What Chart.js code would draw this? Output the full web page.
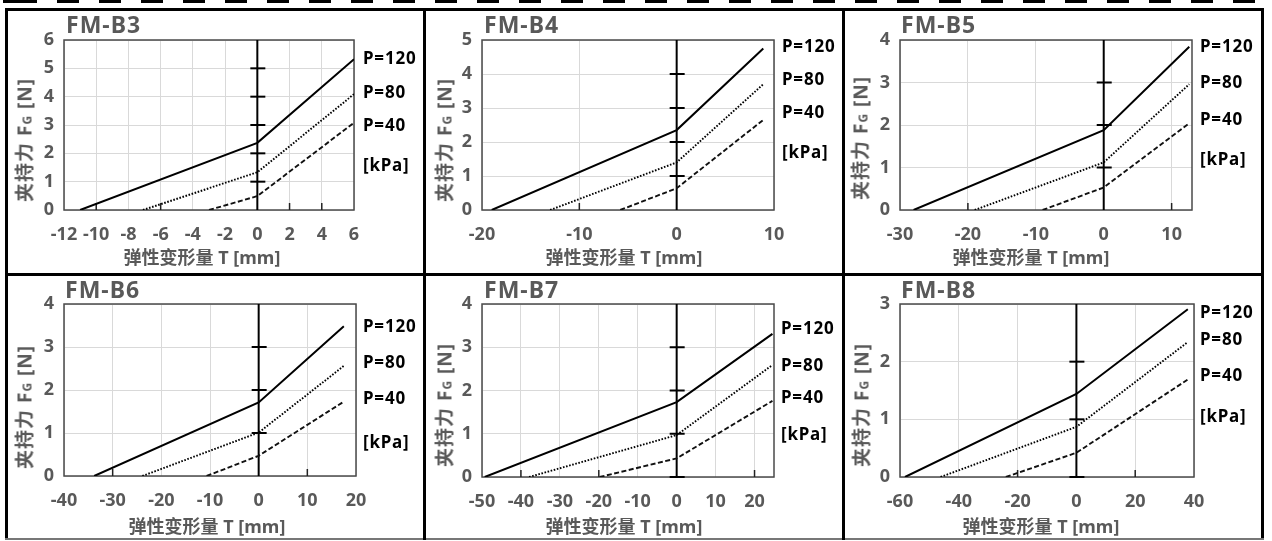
<!DOCTYPE html>
<html><head><meta charset="utf-8">
<script src="https://cdn.jsdelivr.net/npm/chart.js@4/dist/chart.umd.min.js"></script>
<style>
html,body{margin:0;padding:0;background:#fff;}
#stage{position:relative;width:1272px;height:541px;overflow:hidden;background:#fff;
 font-family:"Noto Sans","Noto Sans CJK SC",sans-serif;}
.blk{position:absolute;background:#000;}
.t{position:absolute;white-space:nowrap;font-weight:700;line-height:1;}
canvas{position:absolute;}
</style></head>
<body><div id="stage"></div>
<script>
// ---------------- data ----------------
const panelNames = ["FM-B3","FM-B4","FM-B5","FM-B6","FM-B7","FM-B8"];
const seriesLabels = ["P=120","P=80","P=40"];
const unitLabel = "[kPa]";
const xTitle = "弹性变形量 T [mm]";

const B3_xTicks = [-12,-10,-8,-6,-4,-2,0,2,4,6];
const B3_yTicks = [0,1,2,3,4,5,6];
const B3_T120 = [-11.0, 0, 6];   const B3_F120 = [0, 2.37, 5.32];
const B3_T80  = [-7.1, 0, 6];    const B3_F80  = [0, 1.33, 4.09];
const B3_T40  = [-3.0, 0, 6];    const B3_F40  = [0, 0.49, 3.08];

const B4_xTicks = [-20,-10,0,10];
const B4_yTicks = [0,1,2,3,4,5];
const B4_T120 = [-19.0, 0, 8.9]; const B4_F120 = [0, 2.35, 4.75];
const B4_T80  = [-13.0, 0, 8.9]; const B4_F80  = [0, 1.40, 3.70];
const B4_T40  = [-5.8, 0, 8.9];  const B4_F40  = [0, 0.64, 2.65];

const B5_xTicks = [-30,-20,-10,0,10];
const B5_yTicks = [0,1,2,3,4];
const B5_T120 = [-28.0, 0, 12.6]; const B5_F120 = [0, 1.88, 3.84];
const B5_T80  = [-19.0, 0, 12.6]; const B5_F80  = [0, 1.12, 2.96];
const B5_T40  = [-9.0, 0, 12.6];  const B5_F40  = [0, 0.53, 2.04];

const B6_xTicks = [-40,-30,-20,-10,0,10,20];
const B6_yTicks = [0,1,2,3,4];
const B6_T120 = [-33.8, 0, 17.5]; const B6_F120 = [0, 1.71, 3.48];
const B6_T80  = [-23.9, 0, 17.5]; const B6_F80  = [0, 1.01, 2.56];
const B6_T40  = [-10.7, 0, 17.5]; const B6_F40  = [0, 0.47, 1.73];

const B7_xTicks = [-50,-40,-30,-20,-10,0,10,20];
const B7_yTicks = [0,1,2,3,4];
const B7_T120 = [-49.3, 0, 24.6]; const B7_F120 = [0, 1.73, 3.31];
const B7_T80  = [-37.9, 0, 24.6]; const B7_F80  = [0, 0.97, 2.59];
const B7_T40  = [-19.8, 0, 24.6]; const B7_F40  = [0, 0.43, 1.76];

const B8_xTicks = [-60,-40,-20,0,20,40];
const B8_yTicks = [0,1,2,3];
const B8_T120 = [-58.3, 0, 37.9]; const B8_F120 = [0, 1.44, 2.91];
const B8_T80  = [-46.2, 0, 37.9]; const B8_F80  = [0, 0.87, 2.34];
const B8_T40  = [-24.0, 0, 37.9]; const B8_F40  = [0, 0.42, 1.69];

// axis marks seen on the zero line / bottom axis
const B3_cross=[1,2,3,4,5], B3_bottom=[-10,-6,2,4];
const B4_cross=[1,2,3,4],   B4_bottom=[-10];
const B5_cross=[1,2,3],     B5_bottom=[-20,10];
const B6_cross=[1,2,3],     B6_bottom=[-30,10];
const B7_cross=[0,1,2,3],   B7_bottom=[-40,-20,20];
const B8_cross=[0,1,2],     B8_bottom=[-20,20];

// ---------------- layout ----------------
const panels = [
 {name:panelNames[0], area:[64,354,40,210],  xr:[-12,6],  xt:B3_xTicks, yt:B3_yTicks,
  s:[[B3_T120,B3_F120],[B3_T80,B3_F80],[B3_T40,B3_F40]], cross:B3_cross, bottom:B3_bottom,
  title:[66,26], lab:[363,[59,93,126,166]], yT:[25,140], xT:[202,258]},
 {name:panelNames[1], area:[482,774,40,210], xr:[-20,10], xt:B4_xTicks, yt:B4_yTicks,
  s:[[B4_T120,B4_F120],[B4_T80,B4_F80],[B4_T40,B4_F40]], cross:B4_cross, bottom:B4_bottom,
  title:[484,26], lab:[782,[47,80,113,153]], yT:[445,140], xT:[624,258]},
 {name:panelNames[2], area:[900,1192,40,210], xr:[-30,13], xt:B5_xTicks, yt:B5_yTicks,
  s:[[B5_T120,B5_F120],[B5_T80,B5_F80],[B5_T40,B5_F40]], cross:B5_cross, bottom:B5_bottom,
  title:[901,26], lab:[1200,[47,83,120,160]], yT:[861,138], xT:[1031,258]},
 {name:panelNames[3], area:[64,356,304,476], xr:[-40,20], xt:B6_xTicks, yt:B6_yTicks,
  s:[[B6_T120,B6_F120],[B6_T80,B6_F80],[B6_T40,B6_F40]], cross:B6_cross, bottom:B6_bottom,
  title:[65,291], lab:[363,[327,363,399,443]], yT:[25,407], xT:[207,527]},
 {name:panelNames[4], area:[482,774,304,477], xr:[-50,25], xt:B7_xTicks, yt:B7_yTicks,
  s:[[B7_T120,B7_F120],[B7_T80,B7_F80],[B7_T40,B7_F40]], cross:B7_cross, bottom:B7_bottom,
  title:[484,291], lab:[781,[329,366,398,435]], yT:[445,405], xT:[624,527]},
 {name:panelNames[5], area:[900,1194,304,477], xr:[-60,40], xt:B8_xTicks, yt:B8_yTicks,
  s:[[B8_T120,B8_F120],[B8_T80,B8_F80],[B8_T40,B8_F40]], cross:B8_cross, bottom:B8_bottom,
  title:[901,291], lab:[1200,[313,340,376,417]], yT:[862,405], xT:[1041,527]}
];

const styles = [
 {borderColor:'#000', borderWidth:2, borderDash:[]},
 {borderColor:'#000', borderWidth:1.9, borderDash:[1.6,1.6]},
 {borderColor:'#111', borderWidth:1.9, borderDash:[5,2.5]}
];

const stage = document.getElementById('stage');
function blk(l,t,w,h,c){const d=document.createElement('div');d.className='blk';
 d.style.cssText=`left:${l}px;top:${t}px;width:${w}px;height:${h}px;`+(c?`background:${c};`:'');stage.appendChild(d);}
function txt(s,x,yc,size,color,align,extra){
 const d=document.createElement('div');d.className='t';d.innerHTML=s;
 let tr = align==='center'?'translateX(-50%)':'';
 d.style.cssText=`left:${x}px;top:${yc-0.57*size}px;font-size:${size}px;color:${color};transform:${tr};`+(extra||'');
 stage.appendChild(d);return d;}

const decor = {
 id:'decor',
 beforeDatasetsDraw(chart,args,o){
  const {ctx,chartArea:a,scales:{x,y}}=chart;
  const ln=(x1,y1,x2,y2)=>{ctx.beginPath();ctx.moveTo(x1,y1);ctx.lineTo(x2,y2);ctx.stroke();};
  ctx.save();
  ctx.strokeStyle='#4a4a4a';ctx.lineWidth=1.5;
  ctx.strokeRect(a.left,a.top,a.width,a.height);
  ctx.strokeStyle='#222';ctx.lineWidth=1.5;
  o.bottom.forEach(v=>{const px=x.getPixelForValue(v);ln(px,a.bottom,px,a.bottom-7);});
  const x0=x.getPixelForValue(0);
  ctx.strokeStyle='#000';ctx.lineWidth=2;
  ln(x0,a.top,x0,a.bottom);
  o.cross.forEach(v=>{const py=y.getPixelForValue(v);ln(x0-7,py,x0+8,py);});
  ctx.restore();
 }
};

const WL=60, WR=70, HT=35, HB=45;
const tickFont={family:'"Noto Sans","Noto Sans CJK SC",sans-serif',size:18,weight:'700'};

panels.forEach(p=>{
 const [L,R,T,B]=p.area;
 const w=R-L+WL+WR, h=B-T+HT+HB;
 const c=document.createElement('canvas');
 c.width=w;c.height=h;
 c.style.left=(L-WL)+'px';c.style.top=(T-HT)+'px';c.style.width=w+'px';c.style.height=h+'px';
 stage.appendChild(c);
 new Chart(c,{
  type:'line',
  data:{datasets:p.s.map((s,i)=>Object.assign({
    label:seriesLabels[i],
    data:s[0].map((t,j)=>({x:t,y:s[1][j]})),
    pointRadius:0,tension:0,fill:false
  },styles[i]))},
  options:{
   responsive:false,animation:false,devicePixelRatio:1,
   layout:{padding:{left:0,top:HT,right:WR,bottom:0}},
   plugins:{legend:{display:false},tooltip:{enabled:false},title:{display:false},
     decor:{cross:p.cross,bottom:p.bottom}},
   scales:{
    x:{type:'linear',min:p.xr[0],max:p.xr[1],
     afterBuildTicks:s=>{s.ticks=p.xt.map(v=>({value:v}));},
     afterFit:s=>{s.height=HB;},
     grid:{color:'#d9d9d9',lineWidth:1,drawTicks:false},
     border:{display:false},
     ticks:{padding:14,color:'#595959',font:tickFont,maxRotation:0,autoSkip:false}},
    y:{type:'linear',min:0,max:p.yt[p.yt.length-1],
     afterBuildTicks:s=>{s.ticks=p.yt.map(v=>({value:v}));},
     afterFit:s=>{s.width=WL;},
     grid:{color:'#d9d9d9',lineWidth:1,drawTicks:false},
     border:{display:false},
     ticks:{padding:10,color:'#595959',font:tickFont}}
   }
  },
  plugins:[decor]
 });
 // texts
 txt(p.name,p.title[0],p.title[1],23,'#595959','left','letter-spacing:1px;');
 seriesLabels.concat([unitLabel]).forEach((s,i)=>txt(s,p.lab[0],p.lab[1][i],17,'#000','left','letter-spacing:0.8px;'));
 txt(xTitle,p.xT[0],p.xT[1],18,'#595959','center');
 const yt=txt('夹持力 F<span style="font-size:12px">G</span> [N]',p.yT[0],p.yT[1],19,'#595959','left','letter-spacing:1px;');
 yt.style.transformOrigin='0 0';
 yt.style.left='0px';yt.style.top='0px';
 yt.style.transform=`translate(${p.yT[0]}px,${p.yT[1]}px) rotate(-90deg) translate(-50%,-50%)`;
});

// frame
const dash=document.createElement('div');
dash.style.cssText='position:absolute;left:0;top:0;width:1272px;height:3px;background:repeating-linear-gradient(90deg,#000 0 22px,transparent 22px 42px);background-position:15px 0;';
stage.appendChild(dash);
blk(5,8,1259,3); blk(5,8,3,532); blk(1261,8,3,532); blk(5,538,1259,2,'#777');
blk(5,273,1259,3); blk(423,8,3,532); blk(842,8,3,532);
</script></body></html>
